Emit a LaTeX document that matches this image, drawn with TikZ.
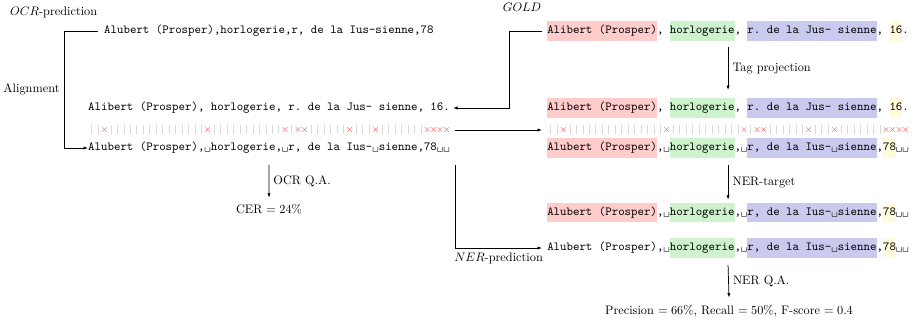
\documentclass[tikz,border=0pt]{standalone}
\usetikzlibrary{arrows.meta}

% entity colours
\definecolor{perc}{HTML}{FFCCCC}
\definecolor{actc}{HTML}{CDF2CD}
\definecolor{locc}{HTML}{CACAEE}
\definecolor{datc}{HTML}{FFFADC}

\frenchspacing
% common height for every text row, so highlighted and plain rows line up
\newcommand\rowstrut{\rule[-5.7pt]{0pt}{15.8pt}}
% highlighted entity span
\newcommand\hlx[2]{{\setlength{\fboxsep}{0pt}\colorbox{#1}{\rowstrut#2}}}
% visible space
\newcommand\vsp{\textvisiblespace}
% alignment marks: match / mismatch, one typewriter cell each
\newcommand\am{\makebox[5.25pt]{\textcolor{gray!30}{\rule[-1pt]{0.4pt}{7.5pt}}}}
\newcommand\ax{\makebox[5.25pt]{\textcolor{red!75}{\footnotesize$\times$}}}

\tikzset{
  row/.style={anchor=west, inner sep=0pt, font=\ttfamily},
  link/.style={line width=0.6pt, -{Latex[length=3.6pt,width=2.6pt]}},
  plain/.style={line width=0.6pt},
}

\begin{document}
\begin{tikzpicture}[x=0.813pt, y=-0.813pt]
\useasboundingbox (0,0) rectangle (917,324);

% headings
\node[anchor=west, inner sep=0pt] (ocrlab) at (10,12) {$OCR$-prediction};
\node[inner sep=0pt] (goldlab) at (522,7) {$GOLD$};

% raw OCR output and gold transcription
\node[row] (ocr) at (104,31) {\rowstrut Alubert (Prosper),horlogerie,r, de la Ius-sienne,78};
\node[row] (gold) at (547,31) {\rowstrut\hlx{perc}{Alibert (Prosper)}, \hlx{actc}{horlogerie}, \hlx{locc}{r. de la Jus- sienne}, \hlx{datc}{16}.};

% aligned pair, left
\node[row] (goldL) at (88,108) {\rowstrut Alibert (Prosper), horlogerie, r. de la Jus- sienne, 16.};
\node[row] (alignL) at (88,130) {\rowstrut\am\am\ax\am\am\am\am\am\am\am\am\am\am\am\am\am\am\am\ax\am\am\am\am\am\am\am\am\am\am\am\ax\am\ax\ax\am\am\am\am\am\am\ax\am\am\am\ax\am\am\am\am\am\am\am\ax\ax\ax\ax};
\node[row] (ocrL) at (88,148) {\rowstrut Alubert (Prosper),\vsp horlogerie,\vsp r, de la Ius-\vsp sienne,78\vsp\vsp};

% aligned pair, right, with projected tags
\node[row] (goldR) at (547,108) {\rowstrut\hlx{perc}{Alibert (Prosper)}, \hlx{actc}{horlogerie}, \hlx{locc}{r. de la Jus- sienne}, \hlx{datc}{16}.};
\node[row] (alignR) at (547,130) {\rowstrut\am\am\ax\am\am\am\am\am\am\am\am\am\am\am\am\am\am\am\ax\am\am\am\am\am\am\am\am\am\am\am\ax\am\ax\ax\am\am\am\am\am\am\ax\am\am\am\ax\am\am\am\am\am\am\am\ax\ax\ax\ax};
\node[row] (ocrR) at (547,148) {\rowstrut\hlx{perc}{Alubert (Prosper)},\vsp\hlx{actc}{horlogerie},\vsp\hlx{locc}{r, de la Ius-\vsp sienne},\hlx{datc}{78}\vsp\vsp};

% NER target and NER prediction
\node[row] (nert) at (547,212.7) {\rowstrut\hlx{perc}{Alubert (Prosper)},\vsp\hlx{actc}{horlogerie},\vsp\hlx{locc}{r, de la Ius-\vsp sienne},\hlx{datc}{78}\vsp\vsp};
\node[row] (nerp) at (547,248) {\rowstrut Alubert (Prosper),\vsp\hlx{actc}{horlogerie},\vsp\hlx{locc}{r, de la Ius-\vsp sienne},\hlx{datc}{78}\vsp\vsp};

% scores
\node (cer) at (269,209) {CER $=24\%$};
\node (score) at (729,310.7) {Precision $=66\%$, Recall $=50\%$, F-score $=0.4$};

% bends
\coordinate (bendA) at (64,31);
\coordinate (bendB) at (509,31);

% connectors
\draw[link] ([shift={(-6,0)}]ocr.west) -- (bendA) -- (bendA |- ocrL.west)
  node[midway, left] {Alignment} -- (ocrL.west);
\draw[link] ([shift={(-5,0)}]gold.west) -- (bendB) -- (bendB |- goldL.east)
  -- ([shift={(3,0)}]goldL.east);
\draw[link] ([shift={(5,0)}]alignL.east) -- ([shift={(-5,0)}]alignR.west);
\draw[link] ([shift={(0,6)}]gold.south) -- ([shift={(0,-8)}]goldR.north)
  node[midway, right] {Tag projection};
\draw[link] ([shift={(0,7)}]ocrL.south) -- ([shift={(0,-2)}]cer.north)
  node[midway, right] {OCR Q.A.};
\draw[link] ([shift={(5,7)}]ocrL.south east) |- ([shift={(-5,0)}]nerp.west)
  node[pos=0.75, below] {$NER$-prediction};
\draw[link] ([shift={(0,7)}]ocrR.south) -- ([shift={(0,-3)}]nert.north)
  node[midway, right] {NER-target};
\draw[link] ([shift={(0,7)}]nerp.south) -- ([shift={(0,-3)}]score.north)
  node[midway, right] {NER Q.A.};
\end{tikzpicture}
\end{document}
